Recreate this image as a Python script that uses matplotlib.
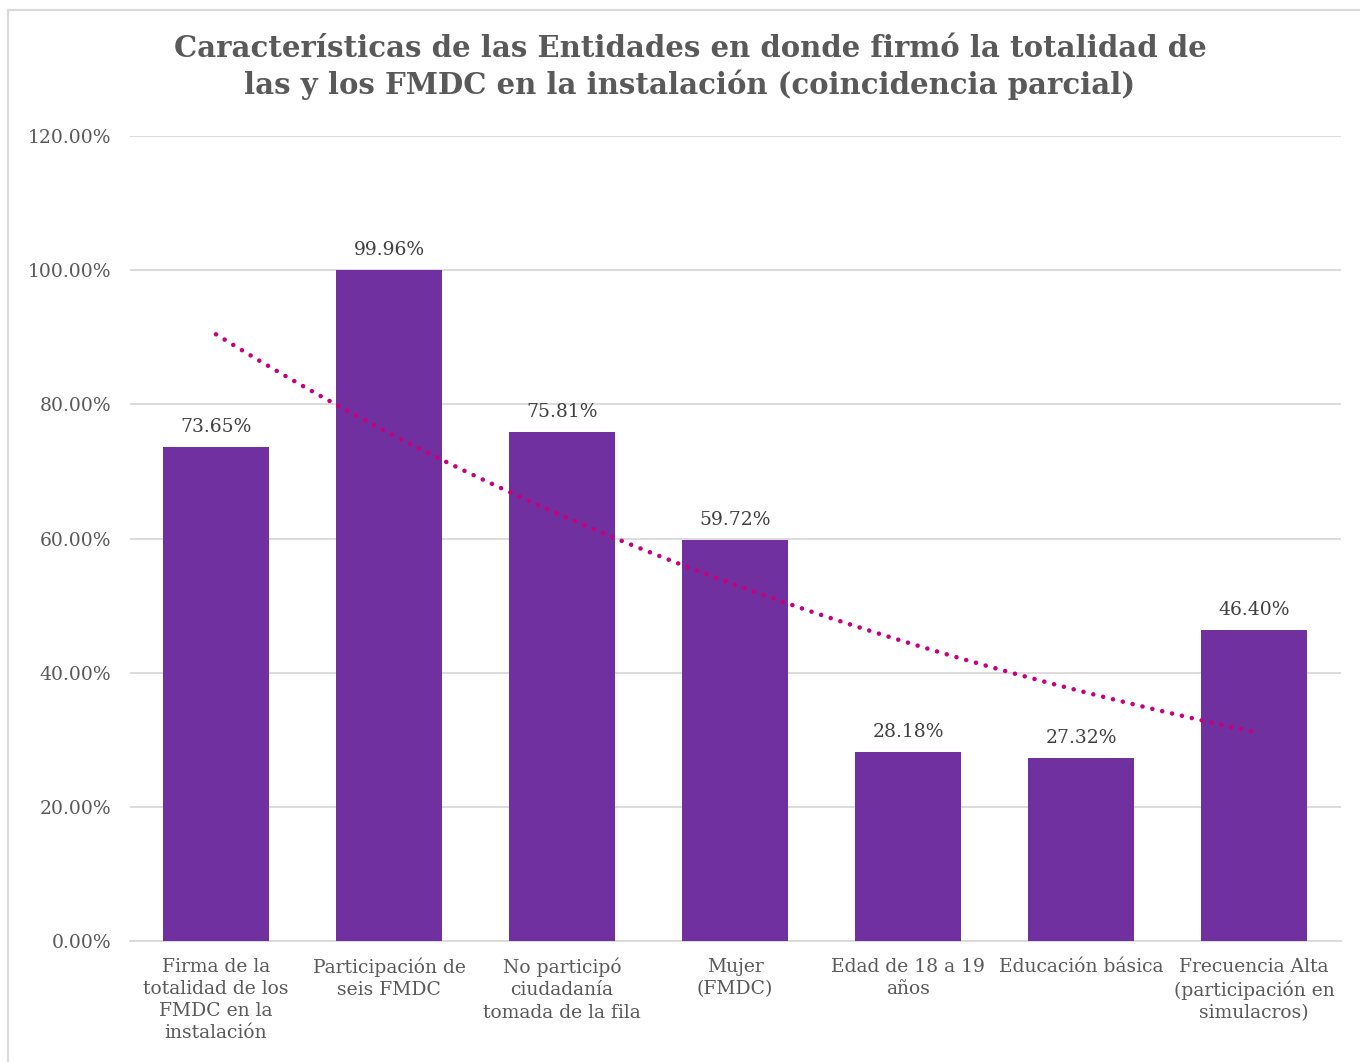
import numpy as np
import matplotlib
matplotlib.use("Agg")
import matplotlib.pyplot as plt
from matplotlib.lines import Line2D

categories = [
    "Firma de la\ntotalidad de los\nFMDC en la\ninstalación",
    "Participación de\nseis FMDC",
    "No participó\nciudadanía\ntomada de la fila",
    "Mujer\n(FMDC)",
    "Edad de 18 a 19\naños",
    "Educación básica",
    "Frecuencia Alta\n(participación en\nsimulacros)",
]
values = [73.65, 99.96, 75.81, 59.72, 28.18, 27.32, 46.40]
yticks = [0, 20, 40, 60, 80, 100, 120]
title = "Características de las Entidades en donde firmó la totalidad de\nlas y los FMDC en la instalación (coincidencia parcial)"

BAR = "#7030A0"
TREND = "#C8007E"
TXT = "#595959"
GRID = "#D9D9D9"
FONT = ["DejaVu Serif"]

plt.rcParams["font.family"] = FONT

fig = plt.figure(figsize=(13.6, 10.62), dpi=100)
ax = fig.add_axes([129.5 / 1360, 1 - 941 / 1062, 1211 / 1360, 805 / 1062])

x = np.arange(1, len(values) + 1)
ax.bar(x, values, width=0.607, color=BAR, zorder=3)

# exponential trendline (Excel style) fitted to the data
b, a = np.polyfit(x, np.log(np.array(values) / 100), 1)
xt = np.linspace(1, len(values), 200)
yt = np.exp(a + b * xt) * 100
ax.plot(xt, yt, color=TREND, lw=3.3, linestyle=(0, (0.01, 2.2)),
        dash_capstyle="round", zorder=4)

for xi, v in zip(x, values):
    ax.annotate(f"{v:.2f}%", (xi, v), xytext=(0, 8), textcoords="offset points",
                ha="center", va="bottom", fontsize=13.5, color="#404040")

ax.set_xlim(0.5, len(values) + 0.5)
ax.set_ylim(0, 120)
ax.set_yticks(yticks)
ax.set_yticklabels([f"{t:.2f}%" for t in yticks], fontsize=13.5, color=TXT)
ax.set_xticks(x)
ax.set_xticklabels(categories, fontsize=13.5, color=TXT, linespacing=1.3)
ax.tick_params(axis="both", length=0)
ax.tick_params(axis="y", pad=13)
ax.tick_params(axis="x", pad=12)
ax.grid(axis="y", color=GRID, lw=1.3, zorder=0)
for s in ["top", "right", "left"]:
    ax.spines[s].set_visible(False)
ax.spines["bottom"].set_color(GRID)
ax.spines["bottom"].set_linewidth(1.3)

fig.text(690 / 1360, 1 - 67 / 1062, title, ha="center", va="center",
         fontsize=21, fontweight="bold", color=TXT, linespacing=1.25)

# outer chart border (top and left visible)
fig.add_artist(Line2D([8 / 1360, 1], [1 - 10 / 1062, 1 - 10 / 1062], color=GRID, lw=1.5,
                      transform=fig.transFigure))
fig.add_artist(Line2D([8 / 1360, 8 / 1360], [0, 1 - 10 / 1062], color=GRID, lw=1.5,
                      transform=fig.transFigure))

fig.savefig("out.png", dpi=100, facecolor="white")
